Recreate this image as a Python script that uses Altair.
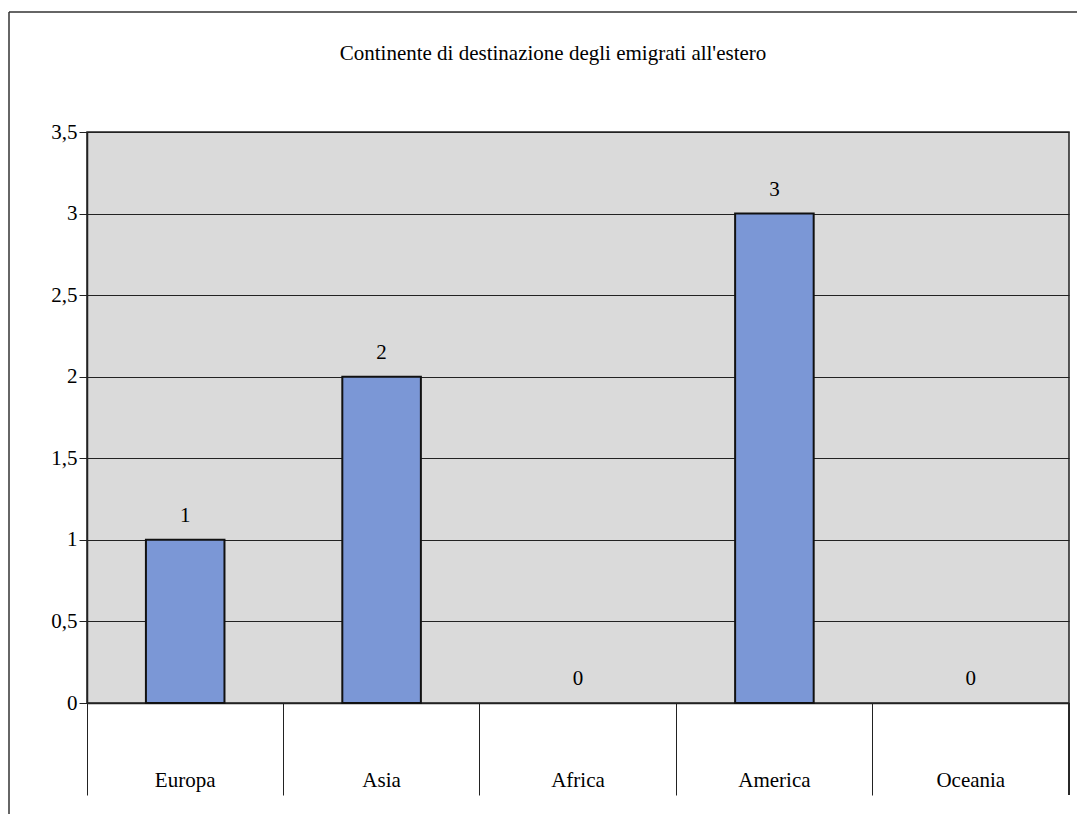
import altair as alt
import pandas as pd

categories = ["Europa", "Asia", "Africa", "America", "Oceania"]
values = [1, 2, 0, 3, 0]
y_ticks = [0, 0.5, 1, 1.5, 2, 2.5, 3, 3.5]
title_text = "Continente di destinazione degli emigrati all'estero"

df = pd.DataFrame({"cat": categories, "val": values})

W, H = 982, 571
PAD_L, PAD_T, PAD_R, PAD_B = 79, 124, 9, 112
FONT = "Liberation Serif"

xscale = alt.Scale(domain=categories, paddingInner=0, paddingOuter=0)
yscale = alt.Scale(domain=[0, 3.5], nice=False)

base = alt.Chart(df)

bars = base.mark_bar(
    width=alt.RelativeBandSize(0.4),
    color="#7b97d6",
    stroke="#111111",
    strokeWidth=2,
).transform_filter("datum.val > 0").encode(
    x=alt.X("cat:N", scale=xscale, sort=categories,
            axis=alt.Axis(title=None, labels=False, bandPosition=0,
                          tickSize=92, tickColor="#222222", tickWidth=1,
                          domainColor="#222222", domainWidth=1.5, grid=False)),
    y=alt.Y("val:Q", scale=yscale,
            axis=alt.Axis(title=None, values=y_ticks,
                          labelExpr="replace(toString(datum.value), '.', ',')",
                          labelFont=FONT, labelFontSize=21, labelColor="black",
                          labelPadding=2, tickSize=8, tickColor="#222222",
                          domainColor="#222222", domainWidth=1.5,
                          grid=True, gridColor="#222222", gridWidth=1)),
)

value_labels = base.mark_text(
    font=FONT, fontSize=21, color="black", baseline="alphabetic", dy=-18, align="center"
).encode(
    x=alt.X("cat:N", scale=xscale, sort=categories),
    y=alt.Y("val:Q", scale=yscale),
    text=alt.Text("val:Q"),
)

cat_labels = base.mark_text(
    font=FONT, fontSize=21, color="black", baseline="alphabetic", align="center"
).encode(
    x=alt.X("cat:N", scale=xscale, sort=categories),
    y=alt.value(655),
    text="cat:N",
)

right_sep = base.mark_rule(color="#222222", strokeWidth=1).encode(
    x=alt.value(W), y=alt.value(H), y2=alt.value(H + 92)
)

deco = alt.Chart(alt.Data(values=[{"t": title_text}]))

title_mark = deco.mark_text(
    font=FONT, fontSize=21, color="black", baseline="alphabetic", align="center"
).encode(
    x=alt.value(553 - 87), y=alt.value(60 - 132), text="t:N"
)

outer_top = deco.mark_rule(color="#333333", strokeWidth=1.5).encode(
    x=alt.value(1 - PAD_L), x2=alt.value(W + PAD_R - 1),
    y=alt.value(4 - PAD_T), y2=alt.value(4 - PAD_T)
)
outer_left = deco.mark_rule(color="#333333", strokeWidth=1.5).encode(
    x=alt.value(1 - PAD_L), x2=alt.value(1 - PAD_L),
    y=alt.value(4 - PAD_T), y2=alt.value(H + PAD_B - 1)
)

chart = alt.layer(outer_top, outer_left, bars, value_labels, cat_labels, right_sep, title_mark).properties(
    width=W, height=H,
    autosize=alt.AutoSizeParams(type="none"),
    padding={"left": PAD_L, "top": PAD_T, "right": PAD_R, "bottom": PAD_B},
    background="white",
).configure_view(
    fill="#dadada", stroke="#222222", strokeWidth=1.5
)

chart.save("out.html", embed_options={"renderer": "svg", "actions": False})
